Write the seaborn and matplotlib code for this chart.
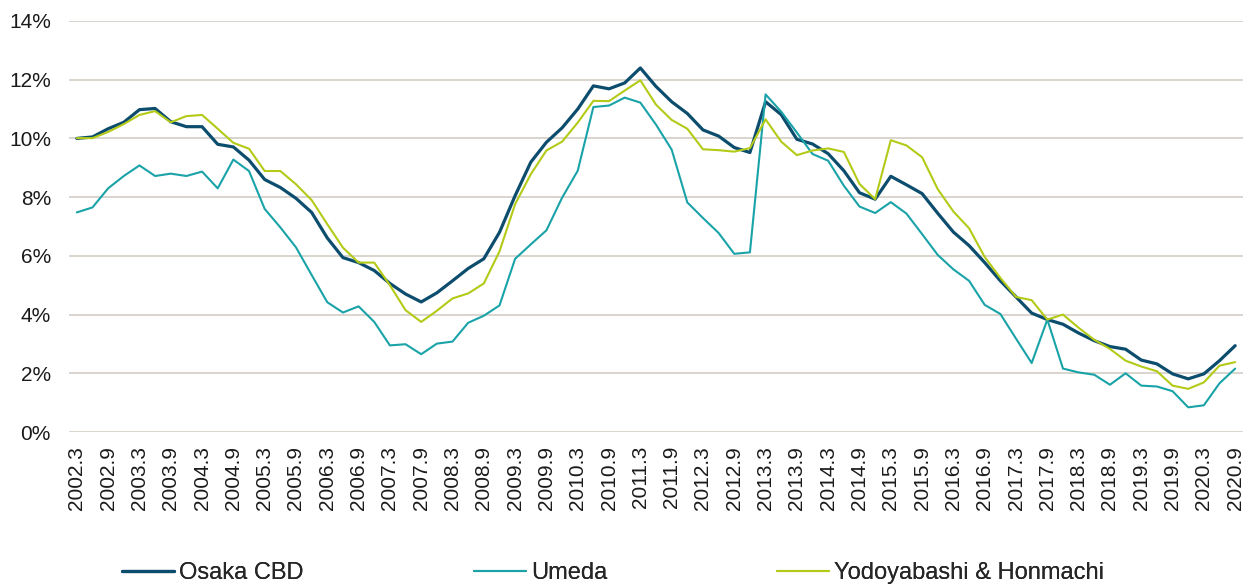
import matplotlib
matplotlib.use("Agg")
import matplotlib.pyplot as plt
import seaborn as sns
import pandas as pd

# quarterly periods, 2002.3 .. 2020.9
periods = [f"{y}.{m}" for y in range(2002, 2021) for m in (3, 6, 9, 12)][:75]

osaka_cbd = [
    10.00, 10.05, 10.33, 10.55, 10.98, 11.02, 10.57, 10.40, 10.40, 9.80,
    9.71, 9.26, 8.60, 8.33, 7.96, 7.48, 6.61, 5.94, 5.77, 5.50,
    5.06, 4.70, 4.43, 4.74, 5.15, 5.57, 5.90, 6.80, 8.05, 9.19,
    9.87, 10.36, 11.00, 11.79, 11.69, 11.89, 12.40, 11.77, 11.25, 10.85,
    10.29, 10.08, 9.69, 9.52, 11.25, 10.81, 9.97, 9.81, 9.48, 8.90,
    8.15, 7.93, 8.71, 8.42, 8.12, 7.45, 6.81, 6.35, 5.77, 5.15,
    4.60, 4.05, 3.83, 3.67, 3.37, 3.11, 2.91, 2.82, 2.45, 2.32,
    1.98, 1.81, 1.98, 2.43, 2.94,
]
umeda = [
    7.48, 7.65, 8.30, 8.72, 9.08, 8.72, 8.80, 8.72, 8.87, 8.30,
    9.28, 8.89, 7.60, 6.97, 6.29, 5.35, 4.42, 4.07, 4.28, 3.75,
    2.95, 2.99, 2.65, 3.01, 3.08, 3.72, 3.96, 4.31, 5.90, 6.39,
    6.87, 7.98, 8.90, 11.07, 11.12, 11.39, 11.22, 10.47, 9.62, 7.82,
    7.29, 6.78, 6.07, 6.12, 11.50, 10.91, 10.20, 9.47, 9.24, 8.39,
    7.68, 7.46, 7.83, 7.44, 6.74, 6.03, 5.54, 5.15, 4.33, 4.02,
    3.18, 2.35, 3.83, 2.16, 2.03, 1.95, 1.61, 2.00, 1.58, 1.55,
    1.39, 0.84, 0.91, 1.66, 2.16,
]
yodoyabashi = [
    10.01, 10.01, 10.22, 10.49, 10.80, 10.93, 10.55, 10.76, 10.80, 10.33,
    9.85, 9.65, 8.89, 8.89, 8.44, 7.90, 7.08, 6.28, 5.77, 5.77,
    5.00, 4.15, 3.75, 4.13, 4.55, 4.72, 5.06, 6.15, 7.76, 8.78,
    9.59, 9.89, 10.54, 11.28, 11.27, 11.63, 11.98, 11.15, 10.63, 10.33,
    9.63, 9.60, 9.55, 9.67, 10.65, 9.89, 9.43, 9.59, 9.66, 9.54,
    8.45, 7.93, 9.94, 9.76, 9.36, 8.27, 7.51, 6.94, 5.96, 5.25,
    4.60, 4.49, 3.83, 4.00, 3.55, 3.14, 2.83, 2.43, 2.23, 2.07,
    1.58, 1.47, 1.69, 2.26, 2.38,
]

series_names = ["Osaka CBD", "Umeda", "Yodoyabashi & Honmachi"]
series_colors = ["#0C4D6E", "#19A3A8", "#B3CA17"]
series_widths = [2.3, 1.5, 1.5]
legend_x = [122, 474, 777]  # pixel start of each legend handle

sns.set_theme(style="white")
plt.rcParams["font.family"] = ["Liberation Sans", "DejaVu Sans"]

df = pd.DataFrame({
    "idx": list(range(len(periods))) * 3,
    "value": osaka_cbd + umeda + yodoyabashi,
    "series": sum([[n] * len(periods) for n in series_names], []),
})

fig = plt.figure(figsize=(12.54, 5.87), dpi=100)
ax = fig.add_axes([69 / 1254, 1 - 432 / 587, (1243 - 69) / 1254, (432 - 21) / 587])

for name, color, lw in zip(series_names, series_colors, series_widths):
    sns.lineplot(data=df[df["series"] == name], x="idx", y="value",
                 color=color, linewidth=lw, ax=ax, label=name, legend=False)

ax.set_xlim(-0.5, len(periods) - 0.5)
ax.set_ylim(0, 14)
ax.set_yticks(range(0, 15, 2))
ax.set_yticklabels([f"{v}%" for v in range(0, 15, 2)])
ax.set_xticks(range(0, len(periods), 2))
ax.set_xticklabels(periods[::2], rotation=90)
ax.tick_params(axis="both", length=0, labelsize=15, colors="#1a1a1a")
ax.tick_params(axis="y", pad=13)
ax.tick_params(axis="x", pad=10)
ax.set_xlabel("")
ax.set_ylabel("")
ax.grid(axis="y", color="#d9d4ce", linewidth=1.4)
ax.set_axisbelow(True)
for s in ax.spines.values():
    s.set_visible(False)

handles = ax.get_lines()
for h, x in zip(handles, legend_x):
    leg = fig.legend(handles=[h], labels=[h.get_label()], loc="center left",
                     bbox_to_anchor=(x / 1254, 1 - 573 / 587), frameon=False,
                     fontsize=17, handlelength=2.2, handletextpad=0.22,
                     borderpad=0, borderaxespad=0)
    fig.add_artist(leg)

fig.savefig("out.png", dpi=100)
plt.close(fig)
